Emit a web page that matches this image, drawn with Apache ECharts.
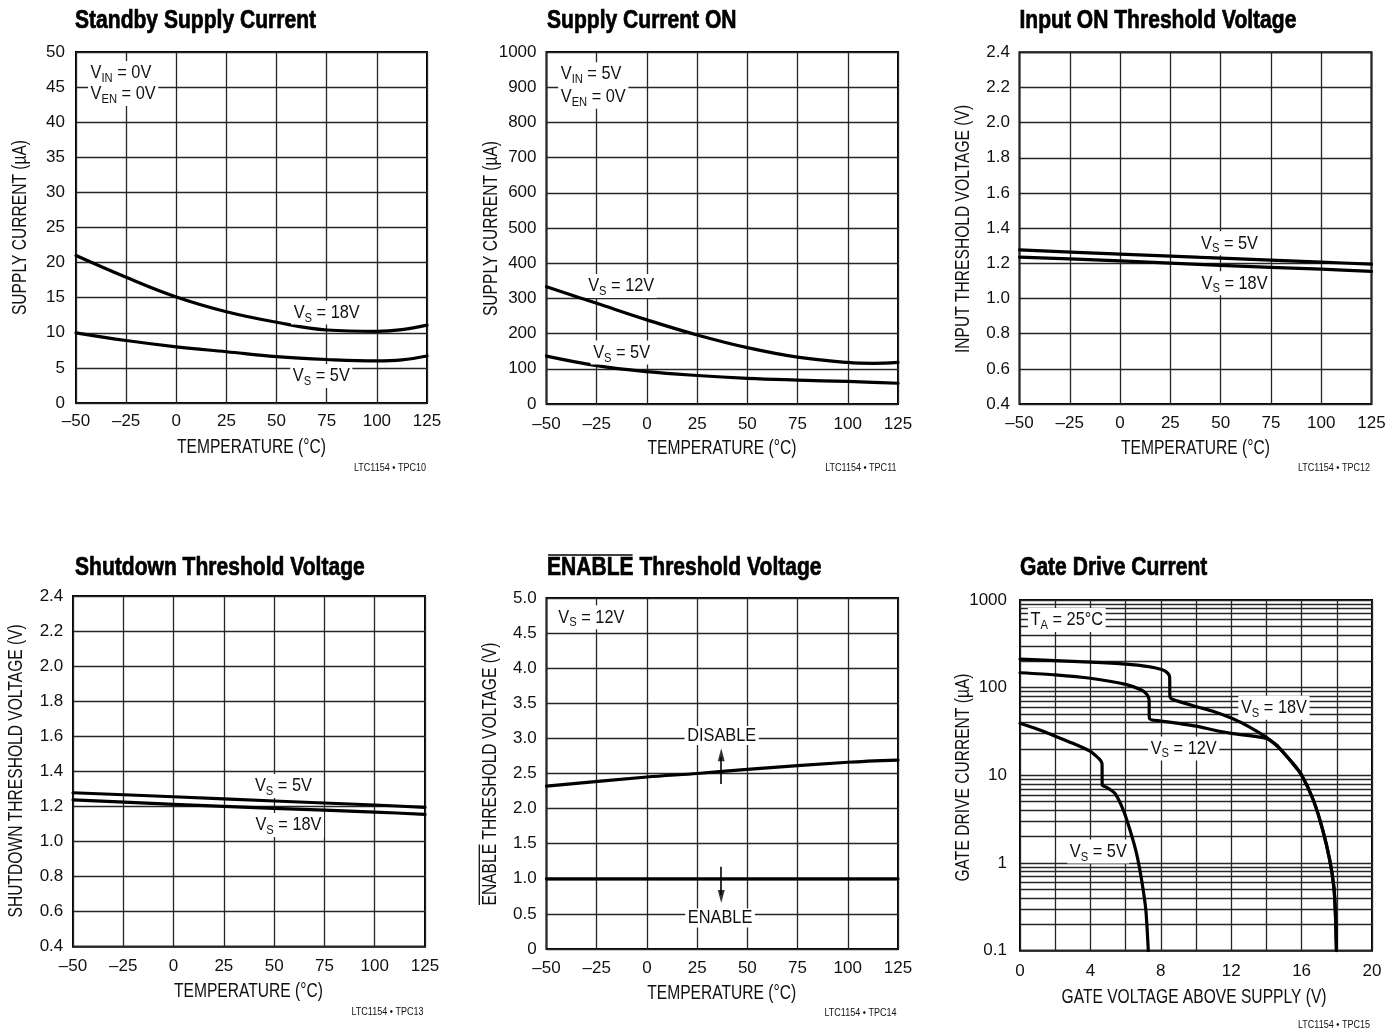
<!DOCTYPE html>
<html><head><meta charset="utf-8">
<script src="https://cdn.jsdelivr.net/npm/echarts@6/dist/echarts.min.js"></script>
<style>html,body{margin:0;padding:0;background:#fff}#c{width:1398px;height:1029px}</style>
</head><body><div id="c"></div>
<script>
// ---------------- DATA ----------------
// Standby Supply Current (µA) vs temperature (°C)
const standbyX   = [-50, -25, 0, 25, 50, 75, 100, 112.5, 125];
const standby18V = [21.0, 17.9, 15.1, 13.0, 11.5, 10.4, 10.2, 10.45, 11.1];
const standby5V  = [10.0, 8.9, 8.0, 7.3, 6.6, 6.2, 6.0, 6.15, 6.7];
// Supply Current ON (µA)
const onX   = [-50, -25, 0, 25, 50, 75, 100, 112.5, 125];
const on12V = [333, 286, 239, 196, 160, 133, 118, 115.5, 118];
const on5V  = [136, 109, 92, 81, 73, 68, 64, 61.5, 59];
// Input ON Threshold Voltage (V)
const thrX        = [-50, 0, 50, 100, 125];
const inputOn5V   = [1.277, 1.252, 1.230, 1.207, 1.195];
const inputOn18V  = [1.235, 1.214, 1.188, 1.167, 1.154];
// Shutdown Threshold Voltage (V)
const shutdown5V  = [1.278, 1.255, 1.231, 1.208, 1.195];
const shutdown18V = [1.237, 1.212, 1.189, 1.168, 1.155];
// ENABLE Threshold Voltage (V)
const enX      = [-50, 0, 25, 50, 100, 125];
const disableV = [2.32, 2.45, 2.50, 2.56, 2.66, 2.69];
const enableV  = [1.0, 1.0, 1.0, 1.0, 1.0, 1.0];
// Gate Drive Current (µA) vs gate voltage above supply (V)
const gate18X = [0, 2, 4, 6, 7.3, 8, 8.3, 8.5, 8.52, 8.65, 10, 11, 12, 13, 14, 14.75, 15.5, 16, 16.67, 17.2, 17.6, 17.83, 17.92, 17.98];
const gate18Y = [212, 203, 196, 186, 174, 162, 152, 134, 79, 74, 61, 53.5, 45, 36, 27.1, 20.3, 13.7, 10.1, 5.2, 2.38, 1.08, 0.54, 0.27, 0.1];
const gate12X = [0, 2, 4, 6, 6.9, 7.2, 7.33, 7.35, 7.5, 8, 10, 11, 12, 14, 14.6, 14.75, 15.5, 16, 16.67, 17.2, 17.6, 17.83, 17.92, 17.98];
const gate12Y = [148, 140, 128, 109, 94, 84, 74, 45, 42.8, 41.7, 36.5, 32.9, 30.1, 26.4, 22.0, 20.3, 13.7, 10.1, 5.2, 2.38, 1.08, 0.54, 0.27, 0.1];
const gate5X  = [0, 1, 2, 3, 4, 4.3, 4.5, 4.62, 4.66, 4.67, 4.92, 5.39, 5.87, 6.25, 6.62, 6.91, 7.15, 7.29];
const gate5Y  = [39.2, 33.5, 28.0, 23.2, 18.8, 16.8, 15.4, 14.3, 13.6, 7.8, 7.3, 6.24, 4.02, 2.38, 1.29, 0.64, 0.29, 0.1];
const logDecades = [0.1, 1, 10, 100];
const logMinorSteps = [2, 3, 4, 5, 6, 7, 8, 9];

// ---------------- ANNOTATIONS (data coordinates) ----------------
const annot = [
  [ {x:-44.0, y:47.0, t:'V{s|IN} = 0V', left:true},
    {x:-44.0, y:44.0, t:'V{s|EN} = 0V', left:true},
    {x:75.0, y:12.9, t:'V{s|S} = 18V'},
    {x:72.3, y:3.85, t:'V{s|S} = 5V'} ],
  [ {x:-44.2, y:937, t:'V{s|IN} = 5V', left:true},
    {x:-44.2, y:873, t:'V{s|EN} = 0V', left:true},
    {x:-12.8, y:335, t:'V{s|S} = 12V'},
    {x:-12.6, y:146, t:'V{s|S} = 5V'} ],
  [ {x:54.4, y:1.314, t:'V{s|S} = 5V'},
    {x:56.9, y:1.086, t:'V{s|S} = 18V'} ],
  [ {x:54.6, y:1.316, t:'V{s|S} = 5V'},
    {x:57.1, y:1.094, t:'V{s|S} = 18V'} ],
  [ {x:-45.4, y:4.725, t:'V{s|S} = 12V', left:true},
    {x:37.2, y:3.04, t:'DISABLE'},
    {x:36.4, y:0.44, t:'ENABLE'} ],
  [ {x:0.45, y:592, t:'T{s|A} = 25°C', left:true},
    {x:14.43, y:59.1, t:'V{s|S} = 18V'},
    {x:9.3, y:20.3, t:'V{s|S} = 12V'},
    {x:4.45, y:1.35, t:'V{s|S} = 5V'} ]
];
const arrowShafts = [[[37, 2.35], [37, 2.74]], [[37, 1.17], [37, 0.77]]];
const arrowHeads = [{p:[37, 2.86], up:true}, {p:[37, 0.655], up:false}];

// ---------------- STYLE / LAYOUT ----------------
const SANS = '"Liberation Sans", Arial, Helvetica, sans-serif';
const INK = '#111';
const COND = 0.81;          // horizontal squeeze to mimic condensed type
const GRIDLINE = {color:'#262626', width:1.3, type:'solid'};
const gridBoxes = [
  {left:76, top:52, width:351, height:351},
  {left:546.5, top:52, width:351.5, height:352},
  {left:1019.5, top:52.3, width:352, height:351.7},
  {left:73, top:596, width:352, height:350.7},
  {left:546.5, top:598, width:351.5, height:351},
  {left:1020, top:600, width:352, height:350.7}
];
const titles = [
  {t:'Standby Supply Current', x:75, y:21.3},
  {t:'Supply Current ON', x:547, y:21.3},
  {t:'Input ON Threshold Voltage', x:1019.5, y:21.3},
  {t:'Shutdown Threshold Voltage', x:75, y:568.3},
  {t:'ENABLE Threshold Voltage', x:547, y:568.3},
  {t:'Gate Drive Current', x:1020, y:568.3}
];
const foots = [
  {t:'LTC1154 • TPC10', x:426, y:467.5},
  {t:'LTC1154 • TPC11', x:896.5, y:467.5},
  {t:'LTC1154 • TPC12', x:1370, y:468},
  {t:'LTC1154 • TPC13', x:423.5, y:1011.5},
  {t:'LTC1154 • TPC14', x:896.5, y:1012.5},
  {t:'LTC1154 • TPC15', x:1370, y:1025}
];
const xNames = [
  {t:'TEMPERATURE (°C)', x:251.5, y:447.7},
  {t:'TEMPERATURE (°C)', x:722, y:448.3},
  {t:'TEMPERATURE (°C)', x:1195.5, y:448.3},
  {t:'TEMPERATURE (°C)', x:248.5, y:991.7},
  {t:'TEMPERATURE (°C)', x:721.7, y:993.3},
  {t:'GATE VOLTAGE ABOVE SUPPLY (V)', x:1194, y:997.3}
];
const yNames = [
  {t:'SUPPLY CURRENT (µA)', x:21, y:227.5},
  {t:'SUPPLY CURRENT (µA)', x:491.7, y:228.5},
  {t:'INPUT THRESHOLD VOLTAGE (V)', x:963.8, y:229},
  {t:'SHUTDOWN THRESHOLD VOLTAGE (V)', x:16.7, y:770.8},
  {t:'ENABLE THRESHOLD VOLTAGE (V)', x:490.8, y:774},
  {t:'GATE DRIVE CURRENT (µA)', x:963.3, y:777.5}
];

function textW(str, font) {
  const c = document.createElement('canvas').getContext('2d');
  c.font = font; return c.measureText(str).width;
}
const pairs = (xs, ys) => xs.map((x, i) => [x, ys[i]]);
const fmtTemp = v => v < 0 ? '\u2013' + (-v) : String(v);

const TICK = {fontSize:17, fontFamily:SANS, color:INK};
function xTemp(gi, margin) {
  return {type:'value', gridIndex:gi, min:-50, max:125, interval:25,
    axisLine:{show:false}, axisTick:{show:false},
    splitLine:{show:true, lineStyle:GRIDLINE},
    axisLabel:Object.assign({margin, formatter:fmtTemp, showMinLabel:true, showMaxLabel:true}, TICK)};
}
function yVal(gi, min, max, interval, fmt, margin) {
  return {type:'value', gridIndex:gi, min, max, interval,
    axisLine:{show:false}, axisTick:{show:false},
    splitLine:{show:true, lineStyle:GRIDLINE},
    axisLabel:Object.assign({margin, formatter:fmt, showMinLabel:true, showMaxLabel:true}, TICK)};
}
function curve(gi, data, smooth, extra) {
  return Object.assign({type:'line', xAxisIndex:gi, yAxisIndex:gi, data, smooth,
    symbol:'none', showSymbol:false, silent:true, z:5,
    lineStyle:{color:'#000', width:3.2, join:'round', cap:'round'}}, extra || {});
}

const logMinor = [];
logDecades.forEach(d => logMinorSteps.forEach(k => logMinor.push(+(d * k).toPrecision(3))));

const f1 = v => v.toFixed(1);
const f5 = v => (Math.abs(v) < 1e-9 ? '0' : v.toFixed(1));
const fInt = v => String(Math.round(v));

const option = {
  animation:false,
  backgroundColor:'#fff',
  grid: gridBoxes.map(g => Object.assign({show:true, borderColor:'#000', borderWidth:2,
    backgroundColor:'transparent', containLabel:false, outerBoundsMode:'none'}, g)),
  xAxis: [
    xTemp(0, 10.2), xTemp(1, 11.5), xTemp(2, 10.8), xTemp(3, 10.8), xTemp(4, 10.8),
    {type:'value', gridIndex:5, min:0, max:20, interval:2,
     axisLine:{show:false}, axisTick:{show:false},
     splitLine:{show:true, lineStyle:GRIDLINE},
     axisLabel:Object.assign({margin:12.5, formatter: v => (Math.round(v) % 4 === 0 ? String(Math.round(v)) : ''),
       showMinLabel:true, showMaxLabel:true}, TICK)}
  ],
  yAxis: [
    yVal(0, 0, 50, 5, fInt, 11),
    yVal(1, 0, 1000, 100, fInt, 10),
    yVal(2, 0.4, 2.4, 0.2, f1, 9.5),
    yVal(3, 0.4, 2.4, 0.2, f1, 9.7),
    yVal(4, 0, 5, 0.5, f5, 9.8),
    {type:'log', gridIndex:5, logBase:10, min:0.1, max:1000,
     axisLine:{show:false}, axisTick:{show:false}, minorTick:{show:false},
     splitLine:{show:true, lineStyle:GRIDLINE},
     axisLabel:Object.assign({margin:13, showMinLabel:true, showMaxLabel:true,
       formatter: v => (v >= 1 ? String(Math.round(v)) : String(+v.toFixed(1)))}, TICK)}
  ],
  series: [
    curve(0, pairs(standbyX, standby18V), 0.4),
    curve(0, pairs(standbyX, standby5V), 0.4),
    curve(1, pairs(onX, on12V), 0.4),
    curve(1, pairs(onX, on5V), 0.4),
    curve(2, pairs(thrX, inputOn5V), 0.3),
    curve(2, pairs(thrX, inputOn18V), 0.3),
    curve(3, pairs(thrX, shutdown5V), 0.3),
    curve(3, pairs(thrX, shutdown18V), 0.3),
    curve(4, pairs(enX, disableV), 0.3),
    curve(4, pairs(enX, enableV), false, {
      markLine:{silent:true, symbol:'none', z:15, animation:false,
        label:{show:false}, emphasis:{disabled:true},
        lineStyle:{color:'#000', width:1.6, type:'solid'},
        data: arrowShafts.map(s => [{coord:s[0]}, {coord:s[1]}])}
    }),
    {type:'scatter', xAxisIndex:4, yAxisIndex:4, silent:true, z:16,
     symbol:'triangle', symbolSize:[7, 13], itemStyle:{color:'#000'},
     data: arrowHeads.map(h => ({value:h.p, symbolRotate: h.up ? 0 : 180,
       symbolOffset:[0, h.up ? 6.5 : -6.5]}))},
    curve(5, pairs(gate18X, gate18Y), 0.22, {
      markLine:{silent:true, symbol:'none', z:1, animation:false,
        label:{show:false}, emphasis:{disabled:true},
        lineStyle:GRIDLINE,
        data: logMinor.map(v => ({yAxis:v}))}
    }),
    curve(5, pairs(gate12X, gate12Y), 0.22),
    curve(5, pairs(gate5X, gate5Y), 0.22)
  ]
};

const chart = echarts.init(document.getElementById('c'), null, {renderer:'canvas', width:1398, height:1029});
chart.setOption(option);

// ---------------- TEXT GRAPHICS ----------------
const TITLE_FONT = 'bold 26px ' + SANS;
const NAME_FONT = '19.5px ' + SANS;
const g = [];
titles.forEach(o => g.push({type:'text', x:o.x, y:o.y, scaleX:COND, silent:true, z:50,
  style:{text:o.t, fill:'#000', stroke:'#000', lineWidth:0.7, font:TITLE_FONT, align:'left', verticalAlign:'middle'}}));
foots.forEach(o => g.push({type:'text', x:o.x, y:o.y, scaleX:0.82, silent:true, z:50,
  style:{text:o.t, fill:INK, font:'11px ' + SANS, align:'right', verticalAlign:'middle'}}));
xNames.forEach(o => g.push({type:'text', x:o.x, y:o.y, scaleX:0.8, silent:true, z:50,
  style:{text:o.t, fill:INK, font:NAME_FONT, align:'center', verticalAlign:'middle'}}));
yNames.forEach(o => g.push({type:'text', x:o.x, y:o.y, rotation:Math.PI / 2, scaleX:0.8, silent:true, z:50,
  style:{text:o.t, fill:INK, font:NAME_FONT, align:'center', verticalAlign:'middle'}}));
// overline over ENABLE (title 5)
const wT = textW('ENABLE', TITLE_FONT) * COND;
g.push({type:'line', silent:true, z:50, shape:{x1:titles[4].x + 1, y1:555, x2:titles[4].x + wT - 1, y2:555},
  style:{stroke:'#000', lineWidth:1.6}});
// overline over ENABLE (y-axis name 5)
const yn = yNames[4];
const wAll = textW(yn.t, NAME_FONT) * 0.8, wE = textW('ENABLE', NAME_FONT) * 0.8;
const yb = yn.y + wAll / 2;
g.push({type:'line', silent:true, z:50, shape:{x1:yn.x - 11.5, y1:yb - 0.5, x2:yn.x - 11.5, y2:yb - wE + 0.5},
  style:{stroke:INK, lineWidth:1.3}});
// in-plot annotations, placed through each grid's own scales
annot.forEach((list, gi) => list.forEach(it => {
  const p = chart.convertToPixel({gridIndex:gi}, [it.x, it.y]);
  g.push({type:'text', x:p[0], y:p[1], scaleX:0.86, silent:true, z:40,
    style:{text:it.t, fill:INK, fontSize:19, fontFamily:SANS,
      align: it.left ? 'left' : 'center', verticalAlign:'middle',
      backgroundColor:'#fff', padding:[0, 3],
      rich:{s:{fontSize:13, fontFamily:SANS, fill:INK, padding:[11, 0, 0, 0]}}}});
}));
chart.setOption({graphic: g});
</script></body></html>
